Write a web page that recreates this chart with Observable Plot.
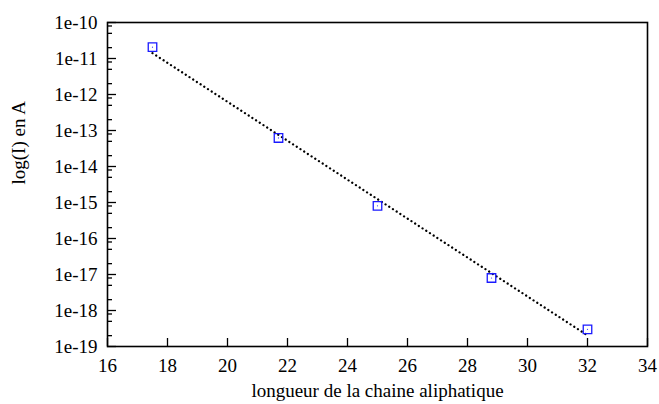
<!DOCTYPE html>
<html>
<head>
<meta charset="utf-8">
<script src="https://cdn.jsdelivr.net/npm/d3@7"></script>
<script src="https://cdn.jsdelivr.net/npm/@observablehq/plot@0.6"></script>
<style>
  html, body { margin: 0; padding: 0; background: #fff; }
  svg { display: block; }
</style>
</head>
<body>
<div id="chart"></div>
<script>
// Data
const chainLength = [17.5, 21.7, 25.0, 28.8, 32.0];
const current = [2.06e-11, 6.2e-14, 8.1e-16, 8.0e-18, 3.0e-19];
// Fitted (dotted) line end points
const fitX = [17.5, 32.0];
const fitY = [1.41e-11, 2.04e-19];

// Axis ticks
const xTicks = [16, 18, 20, 22, 24, 26, 28, 30, 32, 34];
const yTicks = [1e-10, 1e-11, 1e-12, 1e-13, 1e-14, 1e-15, 1e-16, 1e-17, 1e-18, 1e-19];
const yTickLabels = ["1e-10", "1e-11", "1e-12", "1e-13", "1e-14", "1e-15", "1e-16", "1e-17", "1e-18", "1e-19"];
const minorMultipliers = [2, 5, 8];

const xLabel = "longueur de la chaine aliphatique";
const yLabel = "log(I) en A";

const points = chainLength.map((x, i) => ({x, y: current[i]}));
const fit = fitX.map((x, i) => ({x, y: fitY[i]}));
const yMinor = yTicks.slice(1).flatMap(t => minorMultipliers.map(m => t * m));
const yTickRows = yTicks.map((t, i) => ({t, label: yTickLabels[i]}));

const W = 659, H = 404;
const mL = 107, mR = 12, mT = 22, mB = 58;
const innerW = W - mL - mR, innerH = H - mT - mB;

const font = "Liberation Serif, Times New Roman, serif";
const fs = 19;

const chart = Plot.plot({
  width: W,
  height: H,
  marginLeft: mL,
  marginRight: mR,
  marginTop: mT,
  marginBottom: mB,
  style: {fontFamily: font, fontSize: fs + "px", color: "#000", background: "#fff"},
  x: {domain: [16, 34], axis: null},
  y: {type: "log", domain: [1e-19, 1e-10], axis: null},
  marks: [
    // tick labels
    Plot.text(xTicks, {x: d => d, text: d => String(d), frameAnchor: "bottom", lineAnchor: "top", dy: 12, fontSize: fs, fontFamily: font, fill: "#000"}),
    Plot.text(yTickRows, {y: "t", text: "label", frameAnchor: "left", textAnchor: "end", dx: -10, fontSize: fs, fontFamily: font, fill: "#000"}),
    // inward major x ticks
    Plot.ruleX(xTicks, {x: d => d, insetTop: innerH - 8, stroke: "#000", strokeWidth: 1.3}),
    // inward major y ticks
    Plot.ruleY(yTicks, {y: d => d, insetRight: innerW - 9, stroke: "#000", strokeWidth: 1.3}),
    // inward minor y ticks
    Plot.ruleY(yMinor, {y: d => d, insetRight: innerW - 5, stroke: "#000", strokeWidth: 1.3}),
    // fit line (dotted)
    Plot.line(fit, {x: "x", y: "y", stroke: "#000", strokeWidth: 2.3, strokeDasharray: "0.01 4.4", strokeLinecap: "round"}),
    // data points: blue squares with a small center dot
    Plot.dot(points, {x: "x", y: "y", symbol: "square", r: 4.8, stroke: "#1a1aff", strokeWidth: 1.3, fill: "none"}),
    Plot.dot(points, {x: "x", y: "y", r: 0.6, fill: "#3333ff", stroke: "none"}),
    Plot.frame({stroke: "#000", strokeWidth: 1.6}),
    // axis titles
    Plot.text([xLabel], {text: d => d, frameAnchor: "bottom", lineAnchor: "bottom", dy: 50, fontSize: fs, fontFamily: font, fill: "#000"}),
    Plot.text([yLabel], {text: d => d, frameAnchor: "left", rotate: -90, dx: -89, fontSize: fs, fontFamily: font, fill: "#000"})
  ]
});

document.getElementById("chart").appendChild(chart);
</script>
</body>
</html>
